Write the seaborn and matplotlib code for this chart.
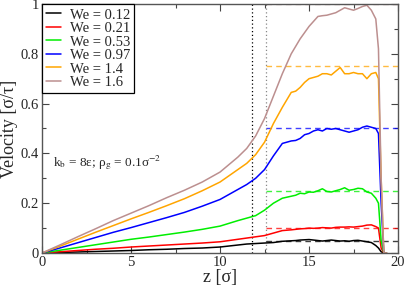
import pandas as pd
import matplotlib
matplotlib.use("Agg")
import matplotlib.pyplot as plt
from matplotlib.ticker import MultipleLocator, FormatStrFormatter
import seaborn as sns

# position along the channel
z = [0, 1, 2, 3, 4, 5, 6, 7, 8, 9, 10, 11, 11.5, 12, 12.5, 13, 13.5, 14,
     14.25, 14.5, 14.75, 15, 15.25, 15.5, 15.75, 16, 16.25, 16.5, 16.75,
     17, 17.25, 17.5, 17.75, 18, 18.25, 18.5, 18.75, 18.9, 19.05, 19.2, 19.35]

we_labels = ["We = 0.12", "We = 0.21", "We = 0.53", "We = 0.97", "We = 1.4", "We = 1.6"]
colors = ["#000000", "#ff0000", "#00ee00", "#0000ff", "#ffa500", "#bc8f8f"]

v_012 = [0, 0.002, 0.004, 0.006, 0.008, 0.010, 0.013, 0.015, 0.018, 0.020, 0.024, 0.032,
         0.036, 0.038, 0.040, 0.042, 0.047, 0.049, 0.050, 0.052, 0.053, 0.054, 0.052,
         0.050, 0.048, 0.050, 0.052, 0.050, 0.048, 0.049, 0.047, 0.050, 0.051, 0.048,
         0.045, 0.042, 0.030, 0.020, 0.005, 0, 0]
v_021 = [0, 0.005, 0.010, 0.015, 0.019, 0.024, 0.028, 0.032, 0.036, 0.040, 0.045, 0.055,
         0.060, 0.065, 0.070, 0.080, 0.090, 0.093, 0.095, 0.097, 0.098, 0.100, 0.099,
         0.100, 0.102, 0.101, 0.100, 0.103, 0.104, 0.104, 0.105, 0.104, 0.106, 0.108,
         0.112, 0.113, 0.106, 0.100, 0.020, 0, 0]
v_053 = [0, 0.011, 0.022, 0.033, 0.044, 0.055, 0.064, 0.074, 0.084, 0.095, 0.108, 0.130,
         0.140, 0.150, 0.172, 0.200, 0.220, 0.228, 0.232, 0.240, 0.238, 0.245, 0.244,
         0.250, 0.258, 0.247, 0.245, 0.250, 0.255, 0.262, 0.252, 0.255, 0.260, 0.258,
         0.245, 0.240, 0.220, 0.200, 0.050, 0, 0]
v_097 = [0, 0.020, 0.041, 0.062, 0.083, 0.102, 0.122, 0.142, 0.163, 0.188, 0.215, 0.255,
         0.275, 0.300, 0.335, 0.390, 0.440, 0.450, 0.452, 0.460, 0.475, 0.480, 0.490,
         0.495, 0.490, 0.500, 0.497, 0.500, 0.495, 0.490, 0.485, 0.490, 0.495, 0.505,
         0.510, 0.505, 0.500, 0.480, 0.200, 0, 0]
v_14 = [0, 0.027, 0.055, 0.083, 0.110, 0.137, 0.163, 0.190, 0.218, 0.250, 0.285, 0.335,
        0.360, 0.395, 0.445, 0.520, 0.585, 0.645, 0.650, 0.665, 0.685, 0.700, 0.705,
        0.710, 0.720, 0.720, 0.715, 0.730, 0.745, 0.720, 0.720, 0.725, 0.720, 0.720,
        0.700, 0.720, 0.725, 0.700, 0.300, 0, 0]
v_16 = [0, 0.032, 0.065, 0.097, 0.130, 0.160, 0.190, 0.222, 0.252, 0.285, 0.325, 0.385,
        0.420, 0.470, 0.540, 0.630, 0.720, 0.800, 0.830, 0.860, 0.885, 0.910, 0.930,
        0.950, 0.953, 0.955, 0.960, 0.965, 0.975, 0.985, 0.980, 0.975, 0.982, 0.990,
        0.995, 0.975, 0.940, 0.820, 0.300, 0, 0]

# plateau reference levels (dashed) and markers (dotted)
plateau = [0.05, 0.1, 0.25, 0.5, 0.75, 1.0]
z_black_dot = 11.78
z_grey_dot = 12.57

series = [v_012, v_021, v_053, v_097, v_14, v_16]
frames = []
for lab, v in zip(we_labels, series):
    frames.append(pd.DataFrame({"z": z, "v": v, "We": lab}))
df = pd.concat(frames, ignore_index=True)

sns.set_style("ticks")
plt.rcParams["font.family"] = ["Liberation Serif", "DejaVu Serif"]
plt.rcParams["mathtext.fontset"] = "stix"

fig = plt.figure(figsize=(4.07, 2.86), dpi=100)
ax = fig.add_axes([0.1032, 0.1154, 0.8748, 0.8706])

ax.axvline(z_black_dot, color="black", ls=(0, (1, 2)), lw=0.9)
ax.axvline(z_grey_dot, color="#888888", ls=(0, (1, 2)), lw=0.9)
for lvl, c in zip(plateau, colors):
    ax.plot([z_grey_dot, 20], [lvl, lvl], color=c, ls=(0, (4, 3)), lw=1.0, alpha=0.75)

sns.lineplot(data=df, x="z", y="v", hue="We", hue_order=we_labels,
             palette=dict(zip(we_labels, colors)), estimator=None, sort=False,
             lw=1.1, ax=ax)

ax.set_xlim(0, 20)
ax.set_ylim(0, 1)
ax.xaxis.set_major_locator(MultipleLocator(5))
ax.xaxis.set_minor_locator(MultipleLocator(2.5))
ax.yaxis.set_major_locator(MultipleLocator(0.2))
ax.yaxis.set_minor_locator(MultipleLocator(0.1))
ax.yaxis.set_major_formatter(FormatStrFormatter("%g"))
ax.tick_params(which="both", direction="in", top=True, right=True, labelsize=10.5,
               color="#444444", width=0.8)
ax.tick_params(which="major", length=5, pad=2)
ax.tick_params(which="minor", length=3)
for s in ax.spines.values():
    s.set_color("#555555")
    s.set_linewidth(1.0)

ax.set_xlabel("z [σ]", fontsize=13, labelpad=0)
ax.set_ylabel("Velocity [σ/τ]", fontsize=13, labelpad=2)

ax.text(0.6, 0.365, r"k$_\mathrm{b}$ = 8ε; ρ$_\mathrm{g}$ = 0.1σ$^{-2}$",
        fontsize=9.5, va="center", ha="left")

leg = ax.legend(loc="upper left", fontsize=10.5, frameon=True, fancybox=False,
                borderaxespad=0, labelspacing=0.02, handlelength=1.0,
                handletextpad=0.6, borderpad=0.3)
leg.get_frame().set_edgecolor("black")
leg.get_frame().set_linewidth(0.9)
leg.get_frame().set_alpha(1)

fig.savefig("out.png", dpi=100)
